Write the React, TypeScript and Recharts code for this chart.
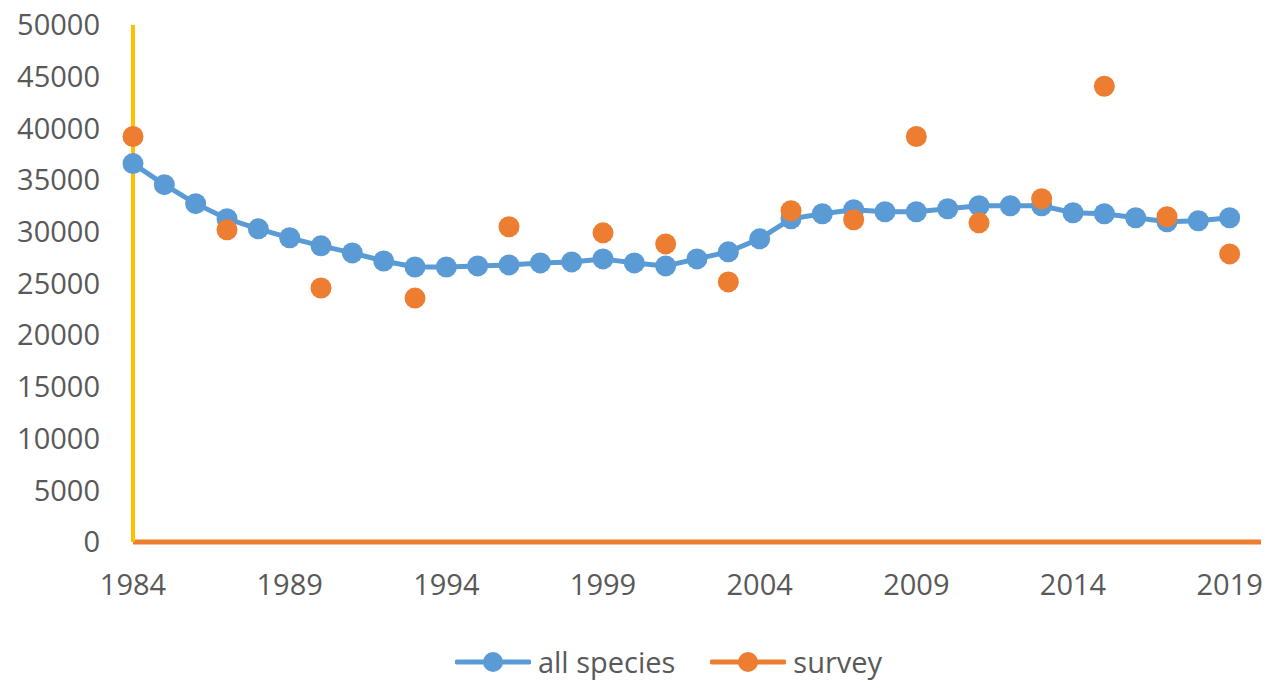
import React from "react";
import { ComposedChart, Line, XAxis, YAxis, Legend } from "recharts";

const years: number[] = [
  1984, 1985, 1986, 1987, 1988, 1989, 1990, 1991, 1992, 1993, 1994, 1995,
  1996, 1997, 1998, 1999, 2000, 2001, 2002, 2003, 2004, 2005, 2006, 2007,
  2008, 2009, 2010, 2011, 2012, 2013, 2014, 2015, 2016, 2017, 2018, 2019,
];
const allSpecies: number[] = [
  36600, 34560, 32720, 31260, 30290, 29420, 28640, 27960, 27180, 26600, 26600, 26700,
  26800, 26990, 27090, 27380, 26990, 26700, 27380, 28060, 29320, 31260, 31750, 32140,
  31940, 31940, 32230, 32520, 32520, 32520, 31840, 31750, 31360, 30970, 31070, 31360,
];
const surveyYears: number[] = [
  1984, 1987, 1990, 1993, 1996, 1999, 2001, 2003, 2005, 2007, 2009, 2011, 2013, 2015, 2017, 2019,
];
const surveyValues: number[] = [
  39220, 30190, 24560, 23590, 30490, 29900, 28830, 25150, 32040, 31170, 39220, 30870, 33200, 44080, 31460, 27860,
];
const xTicks: number[] = [1984, 1989, 1994, 1999, 2004, 2009, 2014, 2019];
const yTicks: number[] = [0, 5000, 10000, 15000, 20000, 25000, 30000, 35000, 40000, 45000, 50000];

const BLUE = "#5B9BD5";
const ORANGE = "#ED7D31";
const YELLOW = "#FFC000";
const TEXT = "#595959";
const FONT = "'Open Sans', 'Noto Sans', sans-serif";
const FS = 29;

const data = years.map((y, i) => {
  const si = surveyYears.indexOf(y);
  return {
    year: y,
    all: allSpecies[i],
    survey: si >= 0 ? surveyValues[si] : null,
  };
});

const legendItems = [
  { label: "all species", color: BLUE },
  { label: "survey", color: ORANGE },
];

const CustomLegend = () => (
  <div
    style={{
      display: "flex",
      justifyContent: "center",
      alignItems: "center",
      fontFamily: FONT,
      fontSize: FS,
      color: TEXT,
      gap: 35,
      paddingLeft: 68,
    }}
  >
    {legendItems.map((it) => (
      <div key={it.label} style={{ display: "flex", alignItems: "center" }}>
        <svg width={76} height={26}>
          <line x1={2} y1={13} x2={74} y2={13} stroke={it.color} strokeWidth={5} strokeLinecap="round" />
          <circle cx={38} cy={13} r={10} fill={it.color} />
        </svg>
        <span style={{ marginLeft: 7, lineHeight: "40px" }}>{it.label}</span>
      </div>
    ))}
  </div>
);

export default function App() {
  return (
    <div style={{ width: 1257, height: 674, background: "#fff" }}>
      <ComposedChart
        width={1257}
        height={674}
        data={data}
        margin={{ top: 17, right: 4, bottom: 0, left: 0 }}
      >
        <XAxis
          dataKey="year"
          type="number"
          domain={[1984, 2020]}
          ticks={xTicks}
          allowDecimals={false}
          interval={0}
          tickLine={false}
          tickSize={0}
          tickMargin={32}
          axisLine={{ stroke: ORANGE, strokeWidth: 5 }}
          tick={{ fill: TEXT, fontSize: FS, fontFamily: FONT }}
          height={100}
        />
        <YAxis
          type="number"
          domain={[0, 50000]}
          ticks={yTicks}
          interval={0}
          tickLine={false}
          tickSize={0}
          tickMargin={33}
          axisLine={{ stroke: YELLOW, strokeWidth: 4 }}
          tick={{ fill: TEXT, fontSize: FS, fontFamily: FONT }}
          width={125}
        />
        <Legend verticalAlign="bottom" content={<CustomLegend />} />
        <Line
          dataKey="all"
          stroke={BLUE}
          strokeWidth={5}
          dot={{ r: 10.5, fill: BLUE, stroke: BLUE, strokeWidth: 0 }}
          activeDot={false}
          isAnimationActive={false}
        />
        <Line
          dataKey="survey"
          stroke="none"
          dot={{ r: 10.5, fill: ORANGE, stroke: ORANGE, strokeWidth: 0 }}
          activeDot={false}
          isAnimationActive={false}
        />
      </ComposedChart>
    </div>
  );
}
